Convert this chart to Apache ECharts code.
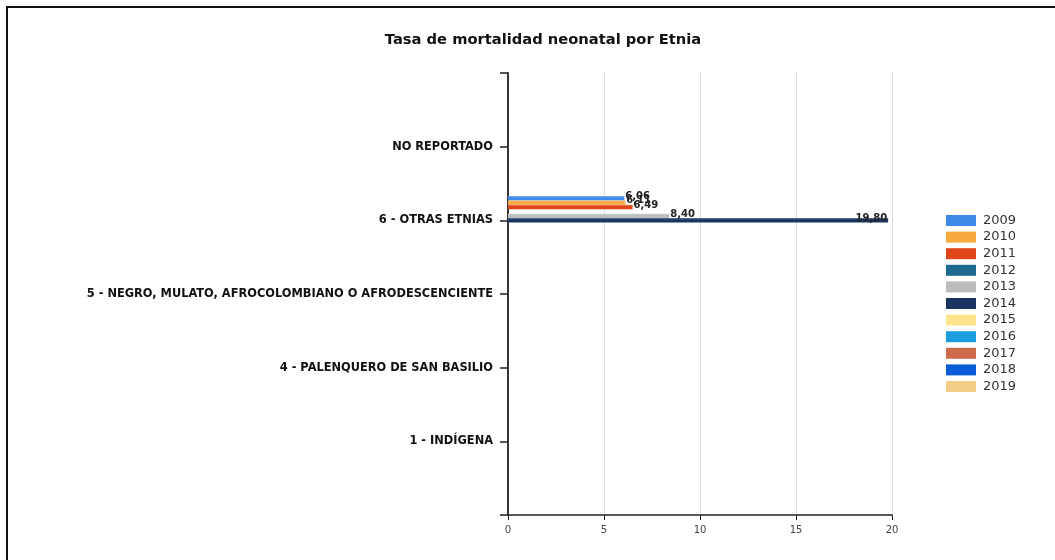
<!DOCTYPE html>
<html>
<head>
<meta charset="utf-8">
<script src="https://cdn.jsdelivr.net/npm/echarts@6/dist/echarts.min.js"></script>
<style>
html,body{margin:0;padding:0;background:#fff;}
#frame{position:absolute;left:6px;top:6px;width:1060px;height:570px;border-left:2px solid #111;border-top:2px solid #111;}
#chart{position:absolute;left:0;top:0;width:1055px;height:560px;}
</style>
</head>
<body>
<div id="frame"></div>
<div id="chart"></div>
<script>
// Categories (top to bottom); blank entries pad the ends of the axis
const categories = ['', 'NO REPORTADO', '6 - OTRAS ETNIAS', '5 - NEGRO, MULATO, AFROCOLOMBIANO O AFRODESCENCIENTE', '4 - PALENQUERO DE SAN BASILIO', '1 - INDÍGENA', ''];
const years = ['2009','2010','2011','2012','2013','2014','2015','2016','2017','2018','2019'];
const colors = ['#3f8ae8','#f6a93c','#df4517','#1c6a8f','#bdbdbd','#1a3461','#fde38a','#1b9de0','#cd6a4c','#0a5bd8','#f2cd86'];
// values per year for each category (null = no data)
const v2009 = [null, null, 6.06, null, null, null, null];
const v2010 = [null, null, 6.11, null, null, null, null];
const v2011 = [null, null, 6.49, null, null, null, null];
const v2012 = [null, null, null, null, null, null, null];
const v2013 = [null, null, 8.40, null, null, null, null];
const v2014 = [null, null, 19.80, null, null, null, null];
const v2015 = [null, null, null, null, null, null, null];
const v2016 = [null, null, null, null, null, null, null];
const v2017 = [null, null, null, null, null, null, null];
const v2018 = [null, null, null, null, null, null, null];
const v2019 = [null, null, null, null, null, null, null];
const seriesValues = [v2009, v2010, v2011, v2012, v2013, v2014, v2015, v2016, v2017, v2018, v2019];
const xTicks = { min: 0, max: 20, interval: 5 };

const chart = echarts.init(document.getElementById('chart'), null, { renderer: 'canvas' });

function shade(c) {
  return new echarts.graphic.LinearGradient(0, 0, 0, 1, [
    { offset: 0, color: echarts.color.lift(c, 0.3) },
    { offset: 0.4, color: c },
    { offset: 1, color: c }
  ]);
}

const series = years.map((y, i) => ({
  name: y,
  type: 'bar',
  data: seriesValues[i],
  barGap: '0%',
  barCategoryGap: '34%',
  itemStyle: { color: shade(colors[i]) },
  label: {
    show: true,
    position: y === '2014' ? 'insideRight' : 'right',
    distance: 1,
    offset: [0, -2],
    color: '#222',
    fontFamily: 'DejaVu Sans',
    fontWeight: 'bold',
    fontSize: 10,
    formatter: p => p.value == null ? '' : p.value.toFixed(2).replace('.', ',')
  }
}));

chart.setOption({
  animation: false,
  color: colors,
  title: {
    text: 'Tasa de mortalidad neonatal por Etnia',
    left: 538, top: 28, textAlign: 'center',
    textStyle: { fontFamily: 'DejaVu Sans', fontWeight: 'bold', fontSize: 14.7, color: '#111' }
  },
  legend: {
    orient: 'vertical',
    left: 946, top: 213, padding: 0,
    itemWidth: 30, itemHeight: 11, itemGap: 1.6,
    icon: 'rect',
    data: years.map((y, i) => ({ name: y, itemStyle: { color: colors[i] } })),
    textStyle: { fontFamily: 'DejaVu Sans', fontSize: 13, color: '#333', lineHeight: 15, padding: [0, 0, 0, 2] }
  },
  grid: { left: 508, right: 163, top: 73, bottom: 45, containLabel: false },
  xAxis: {
    type: 'value',
    min: xTicks.min, max: xTicks.max, interval: xTicks.interval,
    axisLine: { show: true, lineStyle: { color: '#222', width: 1.5 } },
    axisTick: { show: true, length: 5, lineStyle: { color: '#222' } },
    axisLabel: { color: '#444', fontFamily: 'DejaVu Sans', fontSize: 10, margin: 10 },
    splitLine: { show: true, lineStyle: { color: '#ddd', width: 1 } }
  },
  yAxis: {
    type: 'category',
    data: categories,
    inverse: true,
    boundaryGap: false,
    axisLine: { show: true, lineStyle: { color: '#222', width: 1.8 } },
    axisTick: { show: true, length: 8, alignWithLabel: true, lineStyle: { color: '#222', width: 1.5 } },
    axisLabel: { color: '#111', fontFamily: 'DejaVu Sans', fontWeight: 'bold', fontSize: 11.4, margin: 15, interval: 0 },
    splitLine: { show: false }
  },
  series: series
});
</script>
</body>
</html>
